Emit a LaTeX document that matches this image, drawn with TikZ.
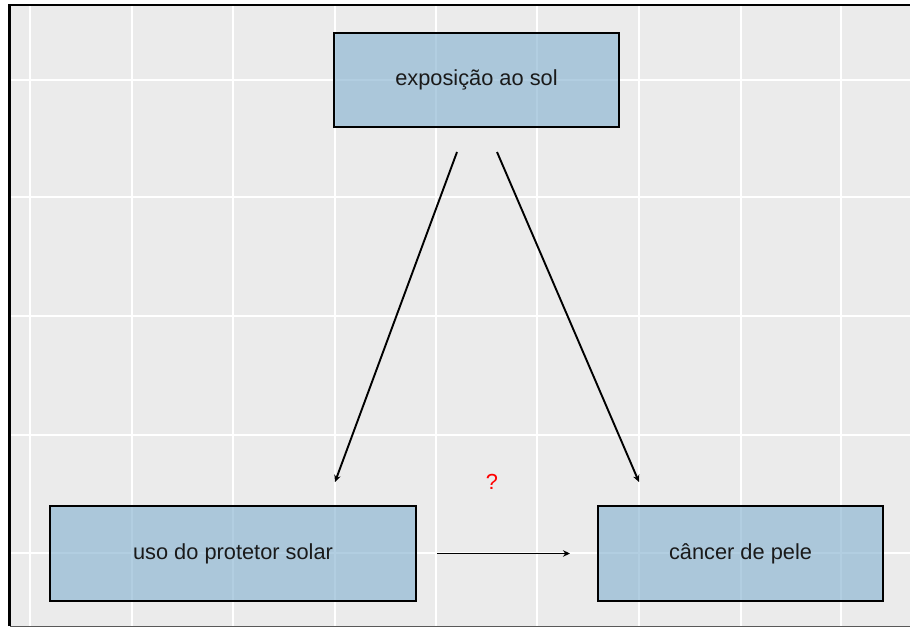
\documentclass[tikz,border=0pt]{standalone}
\usepackage{fontspec}
\setmainfont{Liberation Sans}
\usetikzlibrary{arrows.meta,positioning}
\definecolor{panelgray}{HTML}{EBEBEB}
\definecolor{boxblue}{RGB}{137,180,209}
\definecolor{txtdark}{HTML}{1A1A1A}

\begin{document}
\begin{tikzpicture}[x=1pt, y=-1pt, line join=miter,
  grid line/.style={white, line width=1.3pt},
  var box/.style={rectangle, draw=black, line width=2pt, fill=boxblue, fill opacity=0.65, text opacity=1,
    text=txtdark, font=\fontsize{21.8}{26}\selectfont, inner sep=0pt},
  arr/.style={line width=1.9pt, -{Stealth[length=7pt,width=6.5pt]}}]
\useasboundingbox (0,0) rectangle (910,628);
\fill[white] (0,0) rectangle (910,628);
\fill[panelgray] (10,6) rectangle (910,626);
\begin{scope}
\foreach \x in {30,132,233,335,436,537,639,741,841}
  \draw[grid line] (\x,6) -- (\x,626);
\foreach \y in {80,197,316,435,553}
  \draw[grid line] (10,\y) -- (910,\y);
\end{scope}
\draw[black, line width=2.6pt] (9.5,626) -- (9.5,5) -- (910,5);
\draw[black!65, line width=1pt] (10,626.5) -- (910,626.5);
\begin{scope}
\node[var box, minimum width=285pt, minimum height=94pt] (expo) at (476.5,80) {exposição ao sol};
\node[var box, minimum width=366pt, minimum height=95pt] (uso) at (233,553.5) {uso do protetor solar};
\node[var box, minimum width=285pt, minimum height=95pt] (cancer) at (740.5,553.5) {câncer de pele};
\node[text=red, font=\fontsize{21.8}{26}\selectfont] (q) at (492,482) {?};
\end{scope}
\begin{scope}
\draw[arr] ([xshift=-19.5pt,yshift=-24pt]expo.south) -- ([xshift=102pt,yshift=23pt]uso.north);
\draw[arr] ([xshift=20.5pt,yshift=-24pt]expo.south) -- ([xshift=-101.5pt,yshift=23pt]cancer.north);
\draw[arr] ([xshift=20pt]uso.east) -- ([xshift=-27pt]cancer.west);
\end{scope}
\end{tikzpicture}
\end{document}
